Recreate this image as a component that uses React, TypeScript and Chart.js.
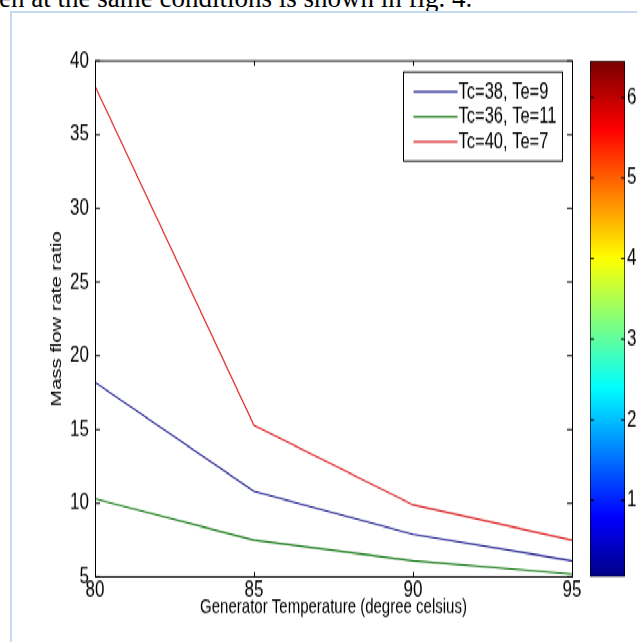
import React, { useEffect, useRef } from "react";
import { Chart, registerables } from "chart.js";

Chart.register(...registerables);

// ---- data ----
const TEMPERATURES = [80, 85, 90, 95];
const SERIES_LABELS = ["Tc=38, Te=9", "Tc=36, Te=11", "Tc=40, Te=7"];
const SERIES_TC38_TE9 = [18.2, 10.8, 7.9, 6.1];
const SERIES_TC36_TE11 = [10.3, 7.5, 6.1, 5.2];
const SERIES_TC40_TE7 = [38.3, 15.3, 9.9, 7.5];
const SERIES_COLORS = ["rgb(15,15,135)", "rgb(10,115,10)", "rgb(215,25,25)"];
const X_TICKS = [80, 85, 90, 95];
const Y_TICKS = [5, 10, 15, 20, 25, 30, 35, 40];
const COLORBAR_RANGE = [0.5, 64.5];
const COLORBAR_TICKS = [10, 20, 30, 40, 50, 60];
const X_TITLE = "Generator Temperature (degree celsius)";
const Y_TITLE = "Mass flow rate ratio";
const CAPTION = "en at the same conditions is shown in fig. 4.";

// ---- layout (unstretched figure coordinates) ----
const STRETCH = 1.35;
const FIG_W = 700;
const FIG_H = 476;
const AREA_LEFT = 95;
const AREA_RIGHT = 572;
const AREA_TOP = 45.2;
const AREA_BOTTOM = 427.4;
const CB_LEFT = 590;
const CB_RIGHT = 625;
const FONT = "'Liberation Sans', Arial, Helvetica, sans-serif";
const FS_TICK = 17;
const FS_TITLE = 15;
const FS_LEGEND = 16.5;

const frameTicksPlugin = {
  id: "frameTicks",
  afterDatasetsDraw(chart: any) {
    const { ctx, chartArea: a, scales } = chart;
    ctx.save();
    ctx.strokeStyle = "#000";
    ctx.lineWidth = 1;
    ctx.beginPath();
    for (const v of X_TICKS) {
      const px = Math.round(scales.x.getPixelForValue(v)) + 0.5;
      ctx.moveTo(px, a.bottom);
      ctx.lineTo(px, a.bottom - 3.7);
      ctx.moveTo(px, a.top);
      ctx.lineTo(px, a.top + 3.7);
    }
    for (const v of Y_TICKS) {
      const py = scales.y.getPixelForValue(v);
      ctx.moveTo(a.left, py);
      ctx.lineTo(a.left + 5, py);
      ctx.moveTo(a.right, py);
      ctx.lineTo(a.right - 5, py);
    }
    ctx.stroke();
    ctx.strokeRect(Math.round(a.left) + 0.5, a.top, Math.round(a.right - a.left), a.bottom - a.top);
    ctx.restore();
  },
};

const legendPlugin = {
  id: "matlabLegend",
  afterDraw(chart: any) {
    const { ctx, chartArea: a } = chart;
    ctx.save();
    ctx.font = `${FS_LEGEND}px ${FONT}`;
    const ds = chart.data.datasets;
    const padL = 10, lineLen = 44, gap = 1;
    const w = 159, h = 66, rowH = 18.5, padTop = 14.8;
    const x0 = Math.round(a.right - 10 - w) + 0.5;
    const y0 = a.top + 8.1;
    ctx.fillStyle = "#fff";
    ctx.fillRect(x0, y0, w, h);
    ctx.strokeStyle = "#000";
    ctx.lineWidth = 1;
    ctx.strokeRect(x0, y0, w, h);
    ds.forEach((d: any, i: number) => {
      const ry = y0 + padTop + i * rowH;
      ctx.strokeStyle = d.borderColor;
      ctx.lineWidth = 1.1;
      ctx.beginPath();
      ctx.moveTo(x0 + padL, ry);
      ctx.lineTo(x0 + padL + lineLen, ry);
      ctx.stroke();
      ctx.fillStyle = "#000";
      ctx.textBaseline = "middle";
      ctx.textAlign = "left";
      ctx.fillText(d.label, x0 + padL + lineLen + gap, ry);
    });
    ctx.restore();
  },
};

const colorbarTicksPlugin = {
  id: "cbTicks",
  afterDatasetsDraw(chart: any) {
    const { ctx, chartArea: a, scales } = chart;
    ctx.save();
    ctx.strokeStyle = "#000";
    ctx.lineWidth = 1;
    ctx.beginPath();
    for (const v of COLORBAR_TICKS) {
      const py = scales.y.getPixelForValue(v);
      ctx.moveTo(a.left, py);
      ctx.lineTo(a.left + 4, py);
      ctx.moveTo(a.right, py);
      ctx.lineTo(a.right - 4, py);
    }
    ctx.stroke();
    ctx.restore();
  },
};

function jetGradient(chart: any) {
  const { ctx, chartArea, scales } = chart;
  if (!chartArea) return "#000";
  const y0 = scales.y.getPixelForValue(COLORBAR_RANGE[0]);
  const y1 = scales.y.getPixelForValue(COLORBAR_RANGE[1]);
  const g = ctx.createLinearGradient(0, y0, 0, y1);
  g.addColorStop(0, "rgb(0,0,135)");
  g.addColorStop(0.0078, "rgb(0,0,143)");
  g.addColorStop(0.117, "rgb(0,0,255)");
  g.addColorStop(0.367, "rgb(0,255,255)");
  g.addColorStop(0.617, "rgb(255,255,0)");
  g.addColorStop(0.867, "rgb(255,0,0)");
  g.addColorStop(0.992, "rgb(128,0,0)");
  g.addColorStop(1, "rgb(120,0,0)");
  return g;
}

export default function App() {
  const mainRef = useRef<HTMLCanvasElement>(null);
  const cbRef = useRef<HTMLCanvasElement>(null);

  useEffect(() => {
    const seriesValues = [SERIES_TC38_TE9, SERIES_TC36_TE11, SERIES_TC40_TE7];
    const main = new Chart(mainRef.current as HTMLCanvasElement, {
      type: "line",
      data: {
        datasets: seriesValues.map((vals, i) => ({
          label: SERIES_LABELS[i],
          data: TEMPERATURES.map((t, j) => ({ x: t, y: vals[j] })),
          borderColor: SERIES_COLORS[i],
          backgroundColor: SERIES_COLORS[i],
          borderWidth: 1.1,
          pointRadius: 0,
          tension: 0,
          fill: false,
        })),
      },
      options: {
        responsive: false,
        animation: false,
        layout: { padding: { left: 0, top: AREA_TOP, right: FIG_W - AREA_RIGHT, bottom: 0 } },
        plugins: { legend: { display: false }, tooltip: { enabled: false } },
        scales: {
          x: {
            type: "linear",
            min: 80,
            max: 95,
            afterBuildTicks: (s: any) => { s.ticks = X_TICKS.map((v) => ({ value: v })); },
            afterFit: (s: any) => { s.height = FIG_H - AREA_BOTTOM; },
            grid: { display: false, drawTicks: false },
            border: { display: false },
            ticks: { color: "#000", font: { family: FONT, size: FS_TICK }, padding: 0, maxRotation: 0 },
            title: { display: true, text: X_TITLE, color: "#000", font: { family: FONT, size: FS_TITLE }, padding: { top: 0, bottom: 17.4 } },
          },
          y: {
            type: "linear",
            min: 5,
            max: 40,
            afterBuildTicks: (s: any) => { s.ticks = Y_TICKS.map((v) => ({ value: v })); },
            afterFit: (s: any) => { s.width = AREA_LEFT; },
            grid: { display: false, drawTicks: false },
            border: { display: false },
            ticks: { color: "#000", font: { family: FONT, size: FS_TICK }, padding: 6 },
            title: { display: true, text: Y_TITLE, color: "#000", font: { family: FONT, size: FS_TITLE }, padding: { top: 48, bottom: 0 } },
          },
        },
      },
      plugins: [frameTicksPlugin, legendPlugin],
    } as any);

    const cb = new Chart(cbRef.current as HTMLCanvasElement, {
      type: "bar",
      data: {
        labels: ["colorbar"],
        datasets: [
          {
            data: [COLORBAR_RANGE],
            backgroundColor: (c: any) => jetGradient(c.chart),
            borderColor: "#000",
            borderWidth: 1,
            borderSkipped: false,
            barPercentage: 1,
            categoryPercentage: 1,
          },
        ],
      },
      options: {
        responsive: false,
        animation: false,
        layout: { padding: { left: CB_LEFT, top: AREA_TOP, right: 0, bottom: FIG_H - AREA_BOTTOM } },
        plugins: { legend: { display: false }, tooltip: { enabled: false } },
        scales: {
          x: { display: false },
          y: {
            position: "right",
            min: COLORBAR_RANGE[0],
            max: COLORBAR_RANGE[1],
            afterBuildTicks: (s: any) => { s.ticks = COLORBAR_TICKS.map((v) => ({ value: v })); },
            afterFit: (s: any) => { s.width = FIG_W - CB_RIGHT; },
            grid: { display: false, drawTicks: false },
            border: { display: false },
            ticks: { color: "#000", font: { family: FONT, size: FS_TICK }, padding: 2 },
          },
        },
      },
      plugins: [colorbarTicksPlugin],
    } as any);

    return () => {
      main.destroy();
      cb.destroy();
    };
  }, []);

  return (
    <div style={{ position: "fixed", left: 0, top: 0, width: 637, height: 642, overflow: "hidden", background: "#fff" }}>
      <div
        style={{
          position: "absolute", left: -1, top: -14.6, whiteSpace: "nowrap",
          fontFamily: "'Liberation Serif', 'Times New Roman', serif", fontSize: 27, lineHeight: "27px", color: "#000",
        }}
      >
        {CAPTION}
      </div>
      <div style={{ position: "absolute", left: 10, top: 11, width: 700, height: 700, border: "2px solid #c6d9f1" }} />
      <div
        style={{
          position: "absolute", left: 0, top: 0, width: FIG_W, height: FIG_H,
          transform: `scaleY(${STRETCH})`, transformOrigin: "0 0",
        }}
      >
        <canvas ref={mainRef} width={FIG_W} height={FIG_H} style={{ position: "absolute", left: 0, top: 0, width: FIG_W, height: FIG_H }} />
        <canvas ref={cbRef} width={FIG_W} height={FIG_H} style={{ position: "absolute", left: 0, top: 0, width: FIG_W, height: FIG_H }} />
      </div>
    </div>
  );
}
